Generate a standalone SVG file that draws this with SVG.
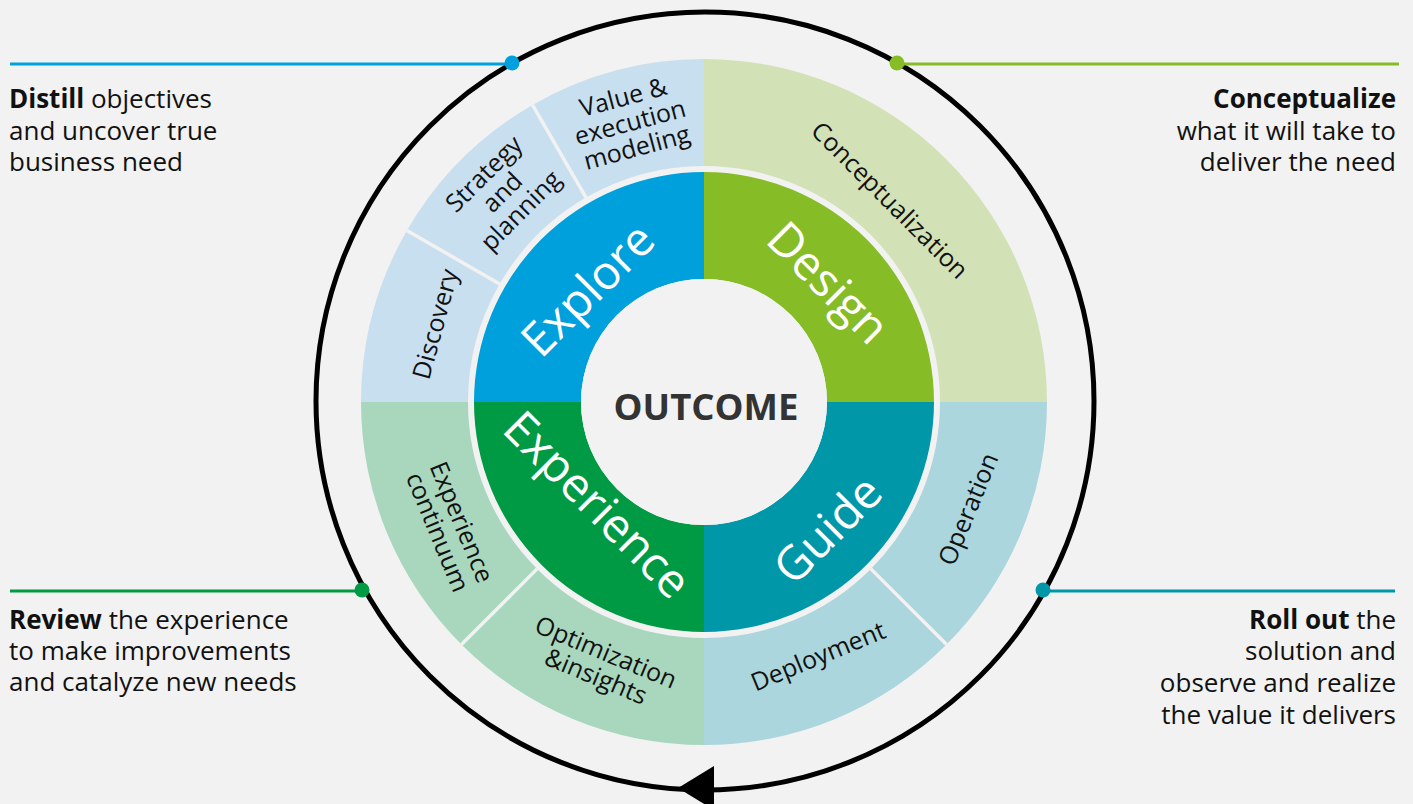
<svg xmlns="http://www.w3.org/2000/svg" width="1413" height="804" viewBox="0 0 1413 804">
<defs>
<style>
.bg{fill:#f2f2f2}
.lbl{font-family:"Open Sans","Liberation Sans",sans-serif;font-size:25px;fill:#111;text-anchor:middle}
.big{font-family:"Open Sans","Liberation Sans",sans-serif;font-size:47px;fill:#fff;text-anchor:middle}
.side{font-family:"Open Sans","Liberation Sans",sans-serif;font-size:26px;fill:#111}
.sep{stroke:#f2f2f2;stroke-width:3.5}
.lead{stroke-width:3;fill:none}
</style>
</defs>
<rect class="bg" x="0" y="0" width="1413" height="804"/>

<g id="cycle">
<circle cx="705" cy="401" r="389" fill="none" stroke="#000" stroke-width="5"/>
<polygon points="678,788 714,766 714,810" fill="#000"/>
</g>

<g id="connectors">
<line class="lead" x1="10" y1="64" x2="512" y2="64" stroke="#00a0dc"/>
<circle cx="512" cy="63" r="7.5" fill="#00a0dc"/>
<line class="lead" x1="897" y1="64" x2="1399" y2="64" stroke="#86bc25"/>
<circle cx="897" cy="63" r="7.5" fill="#86bc25"/>
<line class="lead" x1="10" y1="591" x2="362" y2="591" stroke="#009a44"/>
<circle cx="362" cy="590" r="7.5" fill="#009a44"/>
<line class="lead" x1="1043" y1="591" x2="1395" y2="591" stroke="#0097a9"/>
<circle cx="1043" cy="590" r="7.5" fill="#0097a9"/>
</g>

<g id="discovery">
<path d="M361 402 A343 343 0 0 1 406.95 230.5 L499.62 284 A236 236 0 0 0 468 402 Z" fill="#c8dff0"/>
<text class="lbl" transform="translate(435,324) rotate(-75)" dy="9">Discovery</text>
</g>
<g id="strategy">
<path d="M406.95 230.5 A343 343 0 0 1 532.5 104.95 L586 197.62 A236 236 0 0 0 499.62 284 Z" fill="#c8dff0"/>
<text class="lbl" transform="translate(502,192) rotate(-45)"><tspan x="0" y="-17">Strategy</tspan><tspan x="0" y="9">and</tspan><tspan x="0" y="35">planning</tspan></text>
</g>
<g id="value">
<path d="M532.5 104.95 A343 343 0 0 1 704 59 L704 166 A236 236 0 0 0 586 197.62 Z" fill="#c8dff0"/>
<text class="lbl" transform="translate(630,122) rotate(-15)"><tspan x="0" y="-17">Value &amp;</tspan><tspan x="0" y="9">execution</tspan><tspan x="0" y="35">modeling</tspan></text>
</g>
<g id="conceptualization">
<path d="M704 59 A343 343 0 0 1 1047 402 L940 402 A236 236 0 0 0 704 166 Z" fill="#d3e2b6"/>
<text class="lbl" transform="translate(890,200) rotate(45)" dy="9">Conceptualization</text>
</g>
<g id="operation">
<path d="M1047 402 A343 343 0 0 1 946.54 644.54 L870.88 568.88 A236 236 0 0 0 940 402 Z" fill="#acd6dd"/>
<text class="lbl" transform="translate(968,509) rotate(-67.5)" dy="9">Operation</text>
</g>
<g id="deployment">
<path d="M946.54 644.54 A343 343 0 0 1 704 745 L704 638 A236 236 0 0 0 870.88 568.88 Z" fill="#acd6dd"/>
<text class="lbl" transform="translate(818,656) rotate(-22.5)" dy="9">Deployment</text>
</g>
<g id="optimization">
<path d="M704 745 A343 343 0 0 1 461.46 644.54 L537.12 568.88 A236 236 0 0 0 704 638 Z" fill="#a8d7be"/>
<text class="lbl" transform="translate(601,664) rotate(22.5)"><tspan x="0" y="-4">Optimization</tspan><tspan x="0" y="22">&amp;insights</tspan></text>
</g>
<g id="experience-continuum">
<path d="M461.46 644.54 A343 343 0 0 1 361 402 L468 402 A236 236 0 0 0 537.12 568.88 Z" fill="#a8d7be"/>
<text class="lbl" transform="translate(450,527) rotate(67.5)"><tspan x="0" y="-4">Experience</tspan><tspan x="0" y="22">continuum</tspan></text>
</g>

<g id="separators">
<line class="sep" x1="406.95" y1="230.5" x2="499.62" y2="284"/>
<line class="sep" x1="532.5" y1="104.95" x2="586" y2="197.62"/>
<line class="sep" x1="946.54" y1="644.54" x2="870.88" y2="568.88"/>
<line class="sep" x1="461.46" y1="644.54" x2="537.12" y2="568.88"/>
</g>

<g id="explore">
<path d="M474 402 A230 230 0 0 1 704 172 L704 279 A123 123 0 0 0 581 402 Z" fill="#00a0dc"/>
<text class="big" transform="translate(588,290) rotate(-45)" dy="16">Explore</text>
</g>
<g id="design">
<path d="M704 172 A230 230 0 0 1 934 402 L827 402 A123 123 0 0 0 704 279 Z" fill="#86bc25"/>
<text class="big" transform="translate(828,283) rotate(45)" dy="16">Design</text>
</g>
<g id="guide">
<path d="M934 402 A230 230 0 0 1 704 632 L704 525 A123 123 0 0 0 827 402 Z" fill="#0097a9"/>
<text class="big" transform="translate(828,530) rotate(-45)" dy="16">Guide</text>
</g>
<g id="experience">
<path d="M704 632 A230 230 0 0 1 474 402 L581 402 A123 123 0 0 0 704 525 Z" fill="#009a44"/>
<text class="big" transform="translate(597,505) rotate(45)" dy="16">Experience</text>
</g>

<g id="outcome">
<circle cx="704" cy="402" r="123" fill="#f2f2f2"/>
<text x="706" y="420" font-family="'Open Sans','Liberation Sans',sans-serif" font-size="36.5" font-weight="bold" fill="#333" text-anchor="middle">OUTCOME</text>
</g>

<g id="distill">
<text class="side"><tspan x="9" y="108"><tspan font-weight="bold">Distill</tspan> objectives</tspan><tspan x="9" y="140">and uncover true</tspan><tspan x="9" y="171">business need</tspan></text>
</g>
<g id="conceptualize">
<text class="side" text-anchor="end"><tspan x="1396" y="108" font-weight="bold">Conceptualize</tspan><tspan x="1396" y="140">what it will take to</tspan><tspan x="1396" y="171">deliver the need</tspan></text>
</g>
<g id="review">
<text class="side"><tspan x="9" y="629"><tspan font-weight="bold">Review</tspan> the experience</tspan><tspan x="9" y="660">to make improvements</tspan><tspan x="9" y="691">and catalyze new needs</tspan></text>
</g>
<g id="rollout">
<text class="side" text-anchor="end"><tspan x="1396" y="629"><tspan font-weight="bold">Roll out</tspan> the</tspan><tspan x="1396" y="660">solution and</tspan><tspan x="1396" y="692">observe and realize</tspan><tspan x="1396" y="724">the value it delivers</tspan></text>
</g>
</svg>
